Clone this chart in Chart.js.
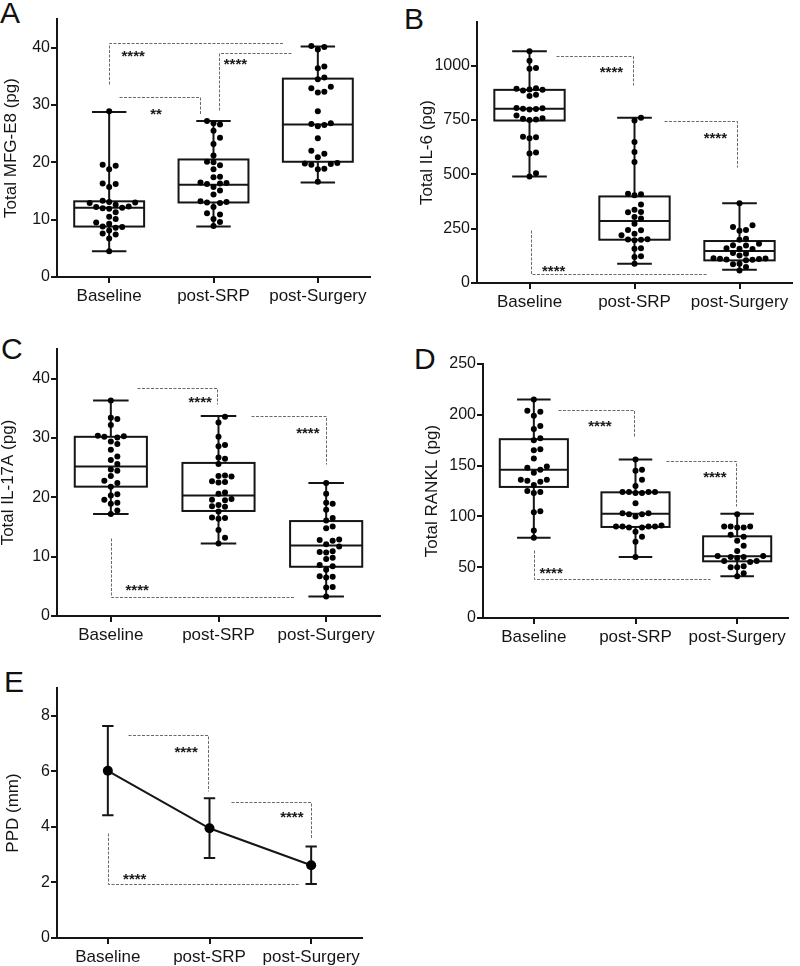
<!DOCTYPE html>
<html>
<head>
<meta charset="utf-8">
<script src="https://cdn.jsdelivr.net/npm/chart.js@4.4.0/dist/chart.umd.min.js"></script>
<style>
  body { margin: 0; background: #fff; width: 800px; height: 966px; position: relative; overflow: hidden; font-family: "Liberation Sans", Arial, sans-serif; }
  canvas { position: absolute; }
  .letter { position: absolute; font-size: 30px; line-height: 1; color: #111; }
</style>
</head>
<body>
<div class="letter" style="left:0;top:-2px">A</div>
<div class="letter" style="left:404px;top:4px">B</div>
<div class="letter" style="left:1px;top:334px">C</div>
<div class="letter" style="left:414px;top:344px">D</div>
<div class="letter" style="left:4px;top:667px">E</div>

<canvas id="chartA" width="400" height="320" style="left:0;top:0"></canvas>
<canvas id="chartB" width="400" height="320" style="left:400px;top:0"></canvas>
<canvas id="chartC" width="400" height="330" style="left:0;top:320px"></canvas>
<canvas id="chartD" width="400" height="330" style="left:400px;top:320px"></canvas>
<canvas id="chartE" width="400" height="316" style="left:0;top:650px"></canvas>

<script>
// Grupos (eixo x de todos os paineis)
const categories = ['Baseline', 'post-SRP', 'post-Surgery'];

// A - MFG-E8 (pg), valores individuais
const mfgBaseline = [4.5, 6.7, 7.4, 7.6, 8.1, 8.6, 8.7, 8.8, 9.3, 9.5, 10.1, 10.5, 11.3, 11.9, 12.0, 12.1, 12.2, 12.3, 12.6, 12.9, 13.0, 13.1, 13.3, 15.7, 16.2, 16.3, 18.8, 19.4, 19.6, 28.9];
const mfgSrp = [8.9, 9.6, 10.1, 10.9, 11.1, 12.2, 12.9, 13.0, 13.1, 13.2, 14.4, 15.1, 15.7, 16.2, 16.3, 16.4, 16.5, 17.4, 17.5, 18.8, 19.5, 20.0, 20.1, 21.2, 23.2, 24.3, 25.5, 26.6, 26.8, 27.2];
const mfgSurgery = [16.6, 18.8, 18.9, 19.6, 19.7, 19.8, 19.9, 20.9, 21.5, 22.0, 24.2, 26.3, 26.5, 26.7, 26.8, 28.9, 32.2, 32.3, 32.9, 33.2, 34.5, 34.8, 36.4, 36.7, 39.7, 40.1, 40.3];
// min, q1, mediana, q3, max
const mfgBox = [[4.5, 8.8, 12.1, 13.2, 28.8], [8.8, 13.0, 16.1, 20.5, 27.2], [16.5, 20.1, 26.6, 34.6, 40.2]];
const mfgTicks = [0, 10, 20, 30, 40];

// B - IL-6 (pg)
const il6Baseline = [490, 505, 595, 600, 665, 670, 672, 750, 752, 755, 757, 770, 798, 800, 801, 803, 805, 860, 865, 885, 888, 890, 893, 895, 985, 988, 1022, 1066];
const il6Srp = [89, 119, 123, 158, 160, 197, 199, 200, 201, 219, 227, 242, 244, 272, 296, 303, 325, 327, 337, 361, 403, 408, 410, 556, 602, 648, 747, 760];
const il6Surgery = [58, 73, 86, 88, 105, 107, 108, 110, 112, 113, 114, 127, 135, 138, 156, 158, 160, 172, 174, 181, 199, 204, 240, 244, 257, 265, 367];
const il6Box = [[490, 747, 801, 888, 1066], [89, 199, 285, 398, 760], [61, 104, 147, 193, 367]];
const il6Ticks = [0, 250, 500, 750, 1000];

// C - IL-17A (pg)
const il17Baseline = [17.2, 17.8, 18.9, 19.1, 19.6, 20.3, 20.5, 21.8, 22.4, 22.8, 23.6, 24.5, 24.7, 25.6, 26.3, 26.9, 28.0, 29.0, 29.4, 30.1, 30.2, 30.3, 30.4, 32.2, 33.2, 33.4, 36.3];
const il17Srp = [12.2, 13.2, 14.5, 16.4, 16.5, 16.6, 17.6, 18.4, 18.5, 18.7, 19.5, 19.6, 19.7, 20.6, 20.8, 22.5, 22.6, 22.7, 23.5, 23.6, 23.7, 25.6, 26.5, 26.7, 28.6, 28.8, 30.2, 32.6, 33.6];
const il17Surgery = [3.3, 4.8, 4.9, 6.5, 6.6, 6.7, 7.8, 8.4, 8.6, 9.6, 9.8, 10.7, 10.8, 10.9, 11.7, 12.1, 12.7, 12.8, 12.9, 14.8, 15.1, 16.1, 16.5, 17.9, 18.9, 19.1, 20.6, 22.4];
const il17Box = [[17.2, 21.8, 25.2, 30.2, 36.3], [12.2, 17.7, 20.3, 25.8, 33.7], [3.3, 8.3, 11.9, 16.0, 22.4]];
const il17Ticks = [0, 10, 20, 30, 40];

// D - RANKL (pg)
const ranklBaseline = [79, 86, 104, 105, 123, 124, 125, 131, 134, 135, 136, 136, 143, 146, 148, 149, 157, 165, 166, 175, 177, 186, 189, 199, 203, 204, 215];
const ranklSrp = [60, 75, 80, 85, 89, 89, 90, 90, 90, 90, 91, 100, 102, 102, 103, 103, 113, 123, 123, 124, 124, 124, 124, 130, 136, 145, 146, 156];
const ranklSurgery = [41, 44, 50, 50, 51, 55, 56, 56, 59, 60, 60, 61, 61, 66, 71, 76, 80, 82, 89, 89, 90, 90, 90, 102];
const ranklBox = [[79, 129, 146, 176, 215], [60, 89.6, 102.7, 123.7, 156], [41, 55.8, 60.7, 80.4, 102.7]];
const ranklTicks = [0, 50, 100, 150, 200, 250];

// E - PPD (mm), media e barras de erro
const ppdMean = [6.02, 3.95, 2.62];
const ppdUpper = [7.63, 5.03, 3.29];
const ppdLower = [4.42, 2.88, 1.94];
const ppdTicks = [0, 2, 4, 6, 8];

// Linhas de significancia (coordenadas nos eixos: indice do grupo, valor)
const mfgBrackets = [
  { path: [[0, 33.7], [0, 40.9], [1.68, 40.9]], text: '****', at: [0.23, 39.1] },
  { path: [[0.09, 31.4], [0.87, 31.4], [0.87, 28.4]], text: '**', at: [0.45, 29.1] },
  { path: [[1.05, 29.2], [1.05, 39.0], [1.75, 39.0]], text: '****', at: [1.21, 37.7] }
];
const il6Brackets = [
  { path: [[0.25, 1043], [0.99, 1043], [0.99, 911]], text: '****', at: [0.78, 988] },
  { path: [[1.28, 747], [1.98, 747], [1.98, 533]], text: '****', at: [1.77, 683] },
  { path: [[0.01, 245], [0.01, 40], [1.69, 40]], text: '****', at: [0.23, 73] }
];
const il17Brackets = [
  { path: [[0.245, 38.5], [0.99, 38.5], [0.99, 35.8]], text: '****', at: [0.83, 36.7] },
  { path: [[1.30, 33.65], [2.0, 33.65], [2.0, 25.7]], text: '****', at: [1.83, 31.5] },
  { path: [[0, 13.2], [0, 3.26], [1.71, 3.26]], text: '****', at: [0.245, 5.05] }
];
const ranklBrackets = [
  { path: [[0.24, 205], [0.99, 205], [0.99, 178]], text: '****', at: [0.65, 192.6] },
  { path: [[1.30, 155], [1.99, 155], [1.99, 110]], text: '****', at: [1.78, 142.7] },
  { path: [[0, 67], [0, 38.4], [1.735, 38.4]], text: '****', at: [0.17, 47.6] }
];
const ppdBrackets = [
  { path: [[0.20, 7.3], [0.99, 7.3], [0.99, 5.3]], text: '****', at: [0.77, 6.84] },
  { path: [[1.21, 4.9], [2.0, 4.9], [2.0, 3.59]], text: '****', at: [1.81, 4.47] },
  { path: [[0, 3.77], [0, 1.93], [1.87, 1.93]], text: '****', at: [0.265, 2.25] }
];

// Layout de cada painel (tamanho do canvas, margens, largura dos eixos)
const layoutA = { w: 400, h: 320, pad: { left: 0, top: 19, right: 30, bottom: 0 }, yWidth: 57, xHeight: 43, titlePad: 2.5 };
const layoutB = { w: 400, h: 320, pad: { left: 15, top: 22, right: 8, bottom: 0 }, yWidth: 62, xHeight: 37, titlePad: 3.5 };
const layoutC = { w: 400, h: 330, pad: { left: 0, top: 29, right: 20, bottom: 0 }, yWidth: 57, xHeight: 34, titlePad: 0 };
const layoutD = { w: 400, h: 330, pad: { left: 20, top: 44, right: 12, bottom: 0 }, yWidth: 63, xHeight: 32, titlePad: 3.5 };
const layoutE = { w: 400, h: 316, pad: { left: 4, top: 38, right: 38, bottom: 0 }, yWidth: 53, xHeight: 28, titlePad: 0.5 };

const ink = '#151515';
Chart.defaults.font.family = '"Liberation Sans", Arial, sans-serif';
Chart.defaults.color = ink;

// Caixas (box plot) desenhadas com as escalas do grafico
const boxPlugin = {
  id: 'boxes',
  beforeDatasetsDraw(chart, args, opts) {
    if (!opts.stats) return;
    const { ctx, scales: { x, y } } = chart;
    ctx.save();
    ctx.strokeStyle = ink;
    ctx.lineWidth = 2;
    opts.stats.forEach((s, i) => {
      const lo = y.getPixelForValue(s[0]), q1 = y.getPixelForValue(s[1]), med = y.getPixelForValue(s[2]);
      const q3 = y.getPixelForValue(s[3]), hi = y.getPixelForValue(s[4]);
      const cx = x.getPixelForValue(i);
      const bl = x.getPixelForValue(i - 0.335), br = x.getPixelForValue(i + 0.335);
      const cl = x.getPixelForValue(i - 0.165), cr = x.getPixelForValue(i + 0.165);
      ctx.beginPath();
      ctx.moveTo(cx, hi); ctx.lineTo(cx, q3);
      ctx.moveTo(cx, q1); ctx.lineTo(cx, lo);
      ctx.moveTo(cl, hi); ctx.lineTo(cr, hi);
      ctx.moveTo(cl, lo); ctx.lineTo(cr, lo);
      ctx.moveTo(bl, med); ctx.lineTo(br, med);
      ctx.stroke();
      ctx.strokeRect(bl, q3, br - bl, q1 - q3);
    });
    ctx.restore();
  }
};

// Barras de erro do painel E
const errorPlugin = {
  id: 'errorBars',
  beforeDatasetsDraw(chart, args, opts) {
    if (!opts.lower) return;
    const { ctx, scales: { x, y } } = chart;
    ctx.save();
    ctx.strokeStyle = ink;
    ctx.lineWidth = 2;
    opts.lower.forEach((lo, i) => {
      const cx = x.getPixelForValue(i);
      const cl = x.getPixelForValue(i - 0.056), cr = x.getPixelForValue(i + 0.056);
      const pl = y.getPixelForValue(lo), pu = y.getPixelForValue(opts.upper[i]);
      ctx.beginPath();
      ctx.moveTo(cx, pl); ctx.lineTo(cx, pu);
      ctx.moveTo(cl, pl); ctx.lineTo(cr, pl);
      ctx.moveTo(cl, pu); ctx.lineTo(cr, pu);
      ctx.stroke();
    });
    ctx.restore();
  }
};

// Linhas tracejadas com asteriscos
const bracketPlugin = {
  id: 'brackets',
  afterDatasetsDraw(chart, args, opts) {
    if (!opts.list) return;
    const { ctx, scales: { x, y } } = chart;
    ctx.save();
    opts.list.forEach(b => {
      ctx.strokeStyle = '#6a6a6a';
      ctx.lineWidth = 1;
      ctx.setLineDash([3, 1.5]);
      ctx.beginPath();
      b.path.forEach((p, k) => {
        const px = Math.round(x.getPixelForValue(p[0])) + 0.5;
        const py = Math.round(y.getPixelForValue(p[1])) + 0.5;
        if (k === 0) ctx.moveTo(px, py); else ctx.lineTo(px, py);
      });
      ctx.stroke();
      ctx.setLineDash([]);
      ctx.fillStyle = '#1a1a1a';
      ctx.font = 'bold 15px "Liberation Sans", Arial, sans-serif';
      ctx.textAlign = 'center';
      ctx.textBaseline = 'alphabetic';
      ctx.fillText(b.text, x.getPixelForValue(b.at[0]), y.getPixelForValue(b.at[1]) + 8.5);
    });
    ctx.restore();
  }
};

Chart.register(boxPlugin, errorPlugin, bracketPlugin);

// Espalha os pontos de mesmo valor lado a lado (estilo "beeswarm")
function swarm(values, group, L, yMax) {
  const unit = (L.h - L.pad.top - L.xHeight) / yMax;
  const band = (L.w - L.pad.left - L.pad.right - L.yWidth) / 3;
  const d = 6.5;
  const placed = [];
  return values.slice().sort((a, b) => a - b).map(v => {
    const py = v * unit;
    let off = 0;
    for (let k = 0; k < 60; k++) {
      off = k === 0 ? 0 : (k % 2 ? 1 : -1) * Math.ceil(k / 2) * d;
      if (placed.every(p => Math.hypot(p.x - off, p.y - py) >= d)) break;
    }
    placed.push({ x: off, y: py });
    return { x: group + off / band, y: v };
  });
}

function makeScales(L, yMax, yTicks, yTitle) {
  const grid = { drawOnChartArea: false, color: ink, lineWidth: 2, tickLength: 6 };
  const border = { color: ink, width: 2 };
  return {
    x: {
      type: 'linear', min: -0.5, max: 2.5,
      afterBuildTicks: s => { s.ticks = categories.map((c, i) => ({ value: i })); },
      afterFit: s => { s.height = L.xHeight; },
      ticks: { callback: v => categories[v], autoSkip: false, maxRotation: 0, font: { size: 17 }, padding: 3, color: ink },
      grid: grid,
      border: border
    },
    y: {
      type: 'linear', min: 0, max: yMax,
      afterBuildTicks: s => { s.ticks = yTicks.map(v => ({ value: v })); },
      afterFit: s => { s.width = L.yWidth; },
      ticks: { callback: v => String(v), font: { size: 16 }, padding: 1, color: ink },
      grid: grid,
      border: border,
      title: { display: true, text: yTitle, color: ink, font: { size: 17, lineHeight: 1 }, padding: { top: L.titlePad, bottom: 0 } }
    }
  };
}

function boxChart(id, L, groups, stats, yMax, yTicks, yTitle, brackets) {
  const points = [];
  groups.forEach((vals, g) => points.push(...swarm(vals, g, L, yMax)));
  new Chart(document.getElementById(id), {
    type: 'scatter',
    data: {
      datasets: [{
        data: points,
        pointRadius: 3,
        pointHoverRadius: 3,
        backgroundColor: '#000',
        borderWidth: 0
      }]
    },
    options: {
      responsive: false,
      animation: false,
      devicePixelRatio: 1,
      events: [],
      layout: { padding: L.pad },
      scales: makeScales(L, yMax, yTicks, yTitle),
      plugins: {
        legend: { display: false },
        tooltip: { enabled: false },
        boxes: { stats: stats },
        brackets: { list: brackets }
      }
    }
  });
}

boxChart('chartA', layoutA, [mfgBaseline, mfgSrp, mfgSurgery], mfgBox, 45, mfgTicks, 'Total MFG-E8 (pg)', mfgBrackets);
boxChart('chartB', layoutB, [il6Baseline, il6Srp, il6Surgery], il6Box, 1200, il6Ticks, 'Total IL-6 (pg)', il6Brackets);
boxChart('chartC', layoutC, [il17Baseline, il17Srp, il17Surgery], il17Box, 45, il17Ticks, 'Total IL-17A (pg)', il17Brackets);
boxChart('chartD', layoutD, [ranklBaseline, ranklSrp, ranklSurgery], ranklBox, 250, ranklTicks, 'Total RANKL (pg)', ranklBrackets);

// Painel E: linha com medias
new Chart(document.getElementById('chartE'), {
  type: 'line',
  data: {
    datasets: [{
      data: ppdMean.map((v, i) => ({ x: i, y: v })),
      borderColor: ink,
      borderWidth: 2,
      pointRadius: 5,
      pointHoverRadius: 5,
      pointBackgroundColor: '#000',
      pointBorderWidth: 0,
      tension: 0
    }]
  },
  options: {
    responsive: false,
    animation: false,
    devicePixelRatio: 1,
    events: [],
    layout: { padding: layoutE.pad },
    scales: makeScales(layoutE, 9, ppdTicks, 'PPD (mm)'),
    plugins: {
      legend: { display: false },
      tooltip: { enabled: false },
      errorBars: { lower: ppdLower, upper: ppdUpper },
      brackets: { list: ppdBrackets }
    }
  }
});
</script>
</body>
</html>
